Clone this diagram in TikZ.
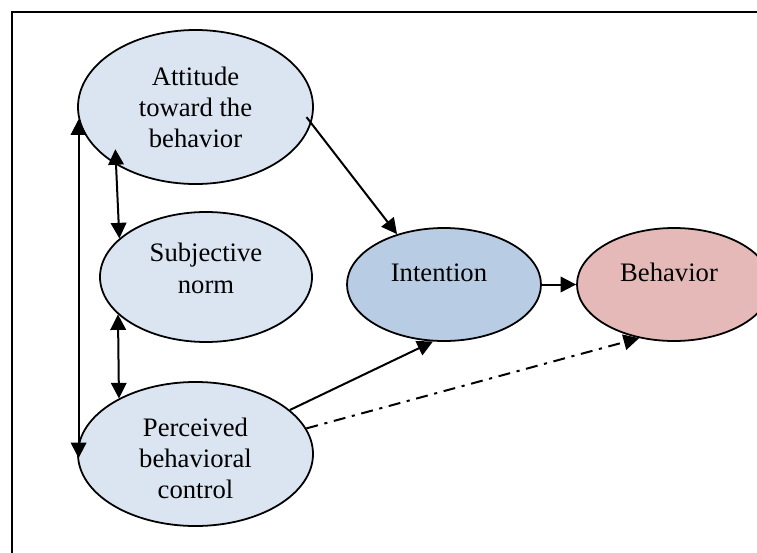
\documentclass[tikz,border=0pt]{standalone}
\usepackage{fontspec}
\setmainfont{Liberation Serif}
\usetikzlibrary{arrows.meta, shapes.geometric}

\definecolor{paleblue}{HTML}{DBE5F1}
\definecolor{midblue}{HTML}{B8CCE4}
\definecolor{palered}{HTML}{E5B9B7}

\begin{document}
\begin{tikzpicture}[x=0.45pt, y=-0.45pt, line width=0.9pt,
                >={Triangle[length=7pt, width=7pt]},
                construct/.style={ellipse, draw, line width=0.8pt, inner sep=0pt,
                  align=center, font=\fontsize{12}{14}\selectfont},
                dashdot/.style={dash pattern=on 5.4pt off 3pt on 1.4pt off 3pt}]
                \path[use as bounding box, clip] (0,0) rectangle (757,553);
                % Frame:
                \draw (12,12) rectangle (800,600);

                % Constructs:
                \node[construct, fill=paleblue, minimum width=105.75pt, minimum height=69.3pt]
                  (att) at (195.5,107) {Attitude\\toward the\\behavior};
                \node[construct, fill=paleblue, minimum width=95.4pt, minimum height=58.5pt]
                  (sub) at (206,277) {\raisebox{16.2pt}{\begin{tabular}{@{}c@{}}Subjective\\norm\end{tabular}}};
                \node[construct, fill=paleblue, minimum width=105.75pt, minimum height=64.8pt]
                  (per) at (195.5,454) {\raisebox{0pt}[\height][\dimexpr\depth-6.3pt\relax]{\begin{tabular}{@{}c@{}}Perceived\\behavioral\\control\end{tabular}}};
                \node[construct, fill=midblue, minimum width=87.3pt, minimum height=50.85pt]
                  (int) at (444,284.5) {\raisebox{10.8pt}{Intention\hspace{4.5pt}}};
                \node[construct, fill=palered, minimum width=87.3pt, minimum height=50.85pt]
                  (beh) at (674,284.5) {\raisebox{10.8pt}{Behavior\hspace{4.5pt}}};

                % Paths:
                \draw[->, shorten <=-3.5pt] (att.-8) -- (int.133);
                \draw[->] (per.25) -- (int.-101);
                \draw[->] (int) -- (beh);
                \draw[->, dashdot] (per.13) -- (beh.-123);

                % Correlations:
                \draw[<->, shorten >=-7pt] (sub.156) -- (att.216);
                \draw[<->] (sub.203) -- (per.144);
                \draw[<->] (att.186) -- (att.186 |- per.182);
            \end{tikzpicture}
\end{document}
